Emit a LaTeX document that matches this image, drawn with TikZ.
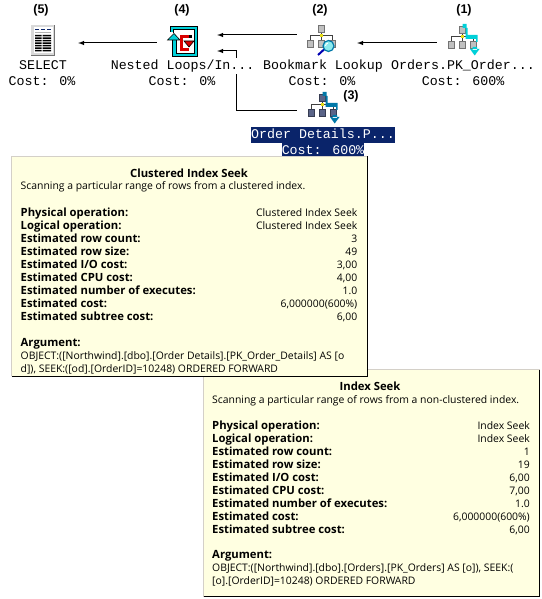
\documentclass[tikz,border=0pt]{standalone}
\usepackage{fontspec}
\setmainfont{Open Sans}
\newfontfamily\planfont{Liberation Mono}
\newfontfamily\numfont{Liberation Sans}
\usetikzlibrary{arrows}
\usetikzlibrary{matrix}
\definecolor{tipfill}{HTML}{FFFFE1}
\definecolor{tipedge}{HTML}{D4D0C8}
\definecolor{selnavy}{HTML}{0A246A}
\definecolor{boxgrey}{HTML}{C0C0C0}
\definecolor{boxdark}{HTML}{5A6488}
\definecolor{loopcyan}{HTML}{00D0D8}
\definecolor{seekteal}{HTML}{0078A8}
\tikzset{
iconbox/.style={inner sep=0pt, minimum height=30pt},
flow/.style={line width=1pt, -latex},
steplabel/.style={font=\numfont\bfseries\fontsize{12.5}{14}\selectfont},
planlabel/.style={font=\planfont\fontsize{13.3}{16}\selectfont, anchor=base, inner sep=0pt, text height=11.5pt, text depth=4.5pt, fill=white},
sellabel/.style={planlabel, fill=selnavy, text=white},
tipbody/.style={fill=tipfill, draw=none},
tiptext/.style={font=\fontsize{10.4}{13}\selectfont, inner sep=0pt, anchor=base west},
tiptitle/.style={font=\bfseries\fontsize{11.3}{13}\selectfont, inner sep=0pt, anchor=base},
tiprows/.style={matrix of nodes, inner sep=0pt, row sep={13pt,between origins},
column sep={337pt,between origins},
nodes={inner sep=0pt, font=\fontsize{10.4}{13}\selectfont},
column 1/.style={nodes={anchor=base west, font=\bfseries\fontsize{11.3}{13}\selectfont}},
column 2/.style={nodes={anchor=base east}}},
}
\newcommand{\treeicon}[3]{%
\begin{scope}[shift={(#1,#2)}]
\draw[line width=1pt, black!75] (0,6) -- (0,15) (-11,15) -- (-11,10) -- (11,10) -- (11,15);
\foreach \bx/\by in {0/0,-11/15,0/15,11/15}
  \draw[line width=1pt, #3!60!black, fill=#3] (\bx-3,\by) rectangle (\bx+3,\by+6.5);
\fill[yellow!90!black] (-1.5,8.5) rectangle (1.5,11.5);
\end{scope}}
\newcommand{\seekicon}[3]{%
\begin{scope}[shift={(#1,#2)}]
\fill[#3] (.5,-3) rectangle (4.5,1) (3.5,1) rectangle (5.5,10) (3.5,8) rectangle (14.5,12) (14,8) rectangle (15.5,15);
\fill[#3] (8,22) -- (17.5,22) -- (12.7,28.5) -- cycle (10.5,20) rectangle (15,23);
\end{scope}}
\begin{document}
\begin{tikzpicture}[x=1pt, y=-1pt]
\useasboundingbox (0,0) rectangle (541,599);
\node[iconbox, minimum width=70pt] (selecticon) at (43,43) {};
\node[iconbox, minimum width=60pt] (nestedicon) at (187,43) {};
\node[iconbox, minimum width=60pt] (lookupicon) at (327,43) {};
\node[iconbox, minimum width=52pt] (ordersicon) at (463,43) {};
\node[iconbox, minimum width=60pt] (detailsicon) at (327,111) {};
\draw[flow] (nestedicon.west) -- (selecticon.east);
\draw[flow] (ordersicon.west) -- (lookupicon.east);
\draw[flow] ([yshift=8pt]lookupicon.west) -- ([yshift=8pt]nestedicon.east);
\draw[flow] (detailsicon.west) -| ([xshift=19.5pt,yshift=-8pt]nestedicon.east) -- ([yshift=-8pt]nestedicon.east);
\node[steplabel] (step5) at (41,10) {(5)};
\node[steplabel] (step4) at (182,10) {(4)};
\node[steplabel] (step2) at (320,10) {(2)};
\node[steplabel] (step1) at (464,10) {(1)};
\node[steplabel] (step3) at (351,96) {(3)};
\fill[black!55] (31,25) rectangle (55,56);
\fill[black!15] (31,25) rectangle (54,55);
\fill[white] (33.5,27) rectangle (52.5,53);
\foreach \dx in {35,41,46.5}
  \fill[selnavy] (\dx,29) rectangle (\dx+4,30.5);
\fill[black!30] (35,32) rectangle (51,33);
\foreach \ry in {35,37.5,40,42.5,45,47.5,50}
  \fill[black] (35,\ry) rectangle (41.5,\ry+1.4) (42.5,\ry) rectangle (51,\ry+1.4);
\draw[line width=3pt, loopcyan] (172,32) -- (172,28) -- (196,28) -- (196,54.5) -- (174,54.5) -- (174,40);
\draw[line width=.5pt, black] (170.5,32) -- (170.5,26.5) -- (197.5,26.5) -- (197.5,56) -- (172,56) -- (172,40) (176,40) -- (176,53) -- (194.5,53) -- (194.5,29.5) -- (173.5,29.5) -- (173.5,33);
\draw[line width=.6pt, black, fill=loopcyan] (167.5,40) -- (174,33.5) -- (180,40) -- cycle;
\draw[line width=3.8pt, black] (192,36.5) -- (181.5,36.5) -- (181.5,49.5) -- (189,49.5);
\draw[line width=2.8pt, red!85!black] (189,36.5) -- (181.5,36.5) -- (181.5,49.5) -- (188.5,49.5);
\draw[line width=.6pt, black, fill=red!85!black] (184,41) -- (194,41) -- (189,47) -- cycle;
\treeicon{321}{26}{boxgrey}
\draw[line width=2pt, blue!70!black] (318,55) -- (324,49.5);
\draw[line width=1.2pt, seekteal, fill=loopcyan!45] (328.5,46) circle (5.5);
\draw[white, line width=1pt] (325.5,46) arc (180:260:3);
\treeicon{462}{27}{boxgrey}
\seekicon{462}{27}{loopcyan}
\treeicon{322}{95}{boxdark}
\seekicon{322}{95}{seekteal}
\node[planlabel] (selectname) at (43,70) {SELECT};
\node[planlabel] (selectcost) at (42,86) {Cost: 0\%};
\node[planlabel] (nestedname) at (182.6,70) {Nested Loops/In...};
\node[planlabel] (nestedcost) at (182,86) {Cost: 0\%};
\node[planlabel] (lookupname) at (323,70) {Bookmark Lookup};
\node[planlabel] (lookupcost) at (322,86) {Cost: 0\%};
\node[planlabel] (ordersname) at (463,70) {Orders.PK\_Order...};
\node[planlabel] (orderscost) at (463,86) {Cost: 600\%};
\node[sellabel] (detailsname) at (323,138) {Order Details.P...};
\node[sellabel] (detailscost) at (323,154) {Cost: 600\%};
\fill[tipbody] (203,369) rectangle (539,596);
\draw[tipedge, line width=1pt] (203.5,597) -- (203.5,369.5) -- (539.5,369.5);
\draw[black, line width=1pt] (203.5,596.5) -- (539.5,596.5) -- (539.5,369.5);
\node[tiptitle] (seektitle) at (370,390) {Index Seek};
\node[tiptext] (seekdesc) at (212,403) {Scanning a particular range of rows from a non-clustered index.};
\matrix (seekrows) [tiprows, matrix anchor=seekrows-1-1.base west, column sep={318pt,between origins}] at (212,429)
{
Physical operation: & Index Seek \\
Logical operation: & Index Seek \\
Estimated row count: & 1 \\
Estimated row size: & 19 \\
Estimated I/O cost: & 6,00 \\
Estimated CPU cost: & 7,00 \\
Estimated number of executes: & 1.0 \\
Estimated cost: & 6,000000(600\%) \\
Estimated subtree cost: & 6,00 \\
};
\node[tiptitle, anchor=base west] (seekarg) at (212,558) {Argument:};
\node[tiptext] (seekline1) at (212,571) {OBJECT:([Northwind].[dbo].[Orders].[PK\_Orders] AS [o]), SEEK:(};
\node[tiptext] (seekline2) at (212,584) {[o].[OrderID]=10248) ORDERED FORWARD};
\fill[tipbody] (11,156) rectangle (367,376);
\draw[tipedge, line width=1pt] (11.5,376) -- (11.5,156.5) -- (367,156.5);
\draw[black, line width=1pt] (11.5,376.5) -- (367.5,376.5) -- (367.5,156);
\node[tiptitle] (clustertitle) at (189,177) {Clustered Index Seek};
\node[tiptext] (clusterdesc) at (20.5,189) {Scanning a particular range of rows from a clustered index.};
\matrix (clusterrows) [tiprows, matrix anchor=clusterrows-1-1.base west] at (20.5,216)
{
Physical operation: & Clustered Index Seek \\
Logical operation: & Clustered Index Seek \\
Estimated row count: & 3 \\
Estimated row size: & 49 \\
Estimated I/O cost: & 3,00 \\
Estimated CPU cost: & 4,00 \\
Estimated number of executes: & 1.0 \\
Estimated cost: & 6,000000(600\%) \\
Estimated subtree cost: & 6,00 \\
};
\node[tiptitle, anchor=base west] (clusterarg) at (20.5,346) {Argument:};
\node[tiptext] (clusterline1) at (20.5,359) {OBJECT:([Northwind].[dbo].[Order Details].[PK\_Order\_Details] AS [o};
\node[tiptext] (clusterline2) at (20.5,372) {d]), SEEK:([od].[OrderID]=10248) ORDERED FORWARD};
\end{tikzpicture}
\end{document}
